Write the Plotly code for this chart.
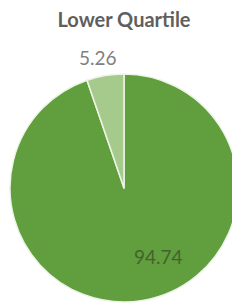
import plotly.graph_objects as go

labels = ["Lower Quartile", "Other"]
values = [94.74, 5.26]
colors = ["#619e3d", "#a6c98c"]
text_colors = ["#44632c", "#808080"]

# page has an 8px body margin, so figure coordinates are shifted by -8
OFF = 8
label_px = [(158 - OFF, 256 - OFF), (98 - OFF, 57 - OFF)]

W, H = 240, 304
ml, mr, mt, mb = 2, 10, 66, 10

fig = go.Figure(go.Pie(
    labels=labels, values=values, sort=False, direction="clockwise", rotation=0,
    marker=dict(colors=colors, line=dict(color="#eef5e8", width=1.5)),
    textinfo="none",
    showlegend=False, hoverinfo="skip",
))
for v, c, (px, py) in zip(values, text_colors, label_px):
    fig.add_annotation(
        xref="paper", yref="paper", xanchor="center", yanchor="middle",
        x=(px - ml) / (W - ml - mr), y=1 - (py - mt) / (H - mt - mb),
        text=f"{v:.2f}", showarrow=False,
        font=dict(color=c, size=19, family="Lato"),
    )
fig.update_layout(
    width=W, height=H,
    margin=dict(l=ml, r=mr, t=mt, b=mb),
    paper_bgcolor="white",
    title=dict(text="<b>Lower Quartile</b>", x=(124 - OFF) / W, xanchor="center",
               y=1 - (20 - OFF) / H, yanchor="middle",
               font=dict(size=20, color="#5f5f5f", family="Lato")),
)
fig.write_html("out.html")
